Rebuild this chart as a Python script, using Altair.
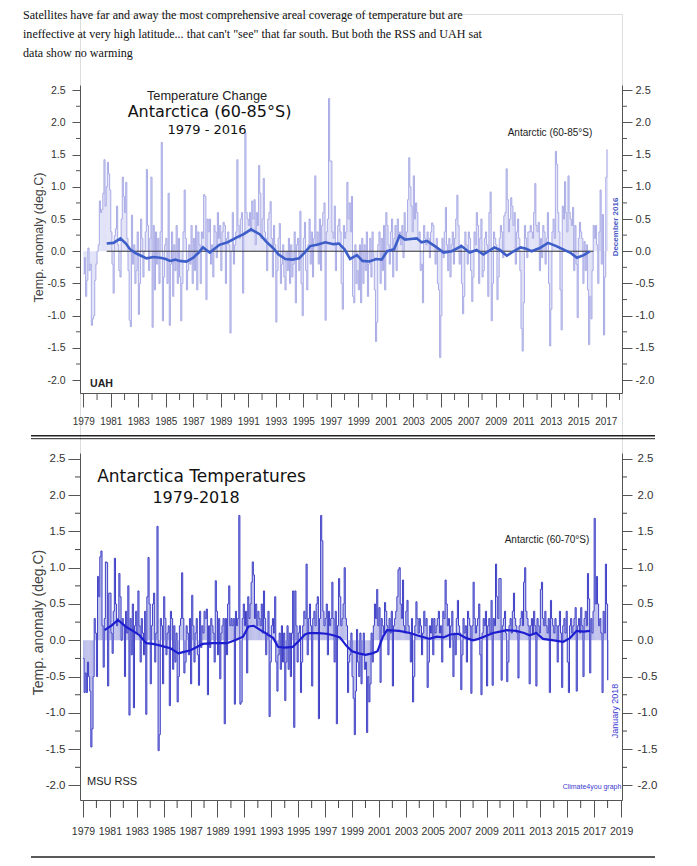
import altair as alt
import pandas as pd

# ---------------- data ----------------
HEADER_LINES = [
    "Satellites have far and away the most comprehensive areal coverage of temperature but are",
    "ineffective at very high latitude... that can't \"see\" that far south. But both the RSS and UAH sat",
    "data show no warming",
]

UAH_FIRST_YEAR = 1979
UAH_MONTHLY = [
    [-0.35, -0.1, -0.7, -0.45, 0.05, -0.3, -0.2, -1.15, -1.05, -1.0, -0.45, -0.2],
    [0.0, 0.1, 0.78, 0.6, 0.65, 0.9, 1.42, 0.7, 1.0, 1.38, 1.2, 0.95],
    [0.3, -0.2, -0.65, 0.24, 0.35, 0.7, 0.1, -0.3, -0.4, 0.5, 1.15, 0.85],
    [0.6, 1.07, 0.2, -0.3, -1.07, -1.17, 0.56, -0.2, 0.1, -0.5, -0.3, 0.3],
    [-0.98, -0.5, 0.5, 0.2, -0.4, 0.0, 0.3, 1.27, 0.4, -0.3, 0.2, 1.15],
    [-1.18, 0.4, -0.6, 0.3, -0.2, 0.2, -0.5, 0.3, 1.69, -1.08, -0.4, 0.1],
    [0.2, -0.5, 0.9, -1.15, -0.2, 0.3, -0.7, 0.1, -0.3, 0.4, -0.5, 0.2],
    [-0.4, -1.08, -0.5, 0.3, 0.95, 0.2, -0.6, -0.3, 0.1, -0.2, 0.4, -0.5],
    [0.2, -0.3, 0.4, -0.6, 0.3, 0.1, -0.5, 0.3, 0.2, 0.88, 0.85, -0.75],
    [0.5, 0.3, 0.5, -0.2, 0.1, -0.4, 0.4, 0.3, -0.1, 0.6, 0.2, 0.4],
    [-0.3, 0.3, 0.45, 0.4, -0.5, 0.2, 0.3, 0.1, -1.27, 0.0, 0.6, -0.2],
    [0.1, 0.3, 1.42, 0.4, 0.2, 0.5, 0.6, -0.65, 0.3, 1.84, 0.6, 0.5],
    [0.4, 0.6, 0.3, 0.78, 0.5, 0.8, 0.1, 0.6, 0.4, 1.33, 0.9, 0.2],
    [0.5, 1.13, 0.3, 0.2, -0.3, 0.5, 0.6, 0.77, 0.2, -0.4, 0.4, 0.1],
    [-1.1, -0.3, 0.2, 0.43, -0.5, -0.2, 0.1, -0.4, -0.6, 0.0, -0.3, 0.2],
    [-0.5, 0.1, -0.4, -0.2, 0.3, -0.8, 0.1, 0.2, -0.3, 0.62, -0.5, -1.0],
    [0.2, 0.45, -0.3, -0.6, 0.1, 0.5, -0.2, 0.3, -0.4, 0.2, 1.17, 0.1],
    [0.3, -0.2, 0.5, -0.3, 0.4, 0.6, 0.75, -1.07, 0.3, 0.5, 2.37, 1.4],
    [1.4, 0.3, 0.2, 0.7, -0.3, 0.1, 0.4, 0.5, 0.3, -0.5, -0.9, 0.4],
    [0.2, 0.3, 1.07, 0.5, 0.75, 0.3, 0.85, -0.7, -0.8, 0.1, -0.5, -0.3],
    [-0.6, 0.1, -0.8, 0.2, -0.5, 0.1, -0.3, 0.3, -0.7, -0.2, 0.2, -0.4],
    [0.3, -0.1, -0.6, -1.4, -1.1, 0.1, 0.3, -0.5, 0.2, -0.3, 0.4, -0.6],
    [0.6, 0.4, 0.1, -0.2, 0.3, 0.5, -0.4, 0.2, 0.4, -0.3, 0.5, 0.2],
    [0.3, 0.1, 0.4, -0.1, 0.6, 0.2, 0.3, 0.8, 1.45, 1.0, 0.7, 0.3],
    [1.17, 0.5, 0.75, 0.6, 0.2, 0.3, -0.3, -0.2, -0.8, 0.4, 0.2, 0.1],
    [0.3, 0.2, -0.1, 0.3, 0.44, 0.4, 0.1, -0.2, 0.2, -0.5, -0.6, -1.65],
    [-1.0, 0.2, -0.1, 0.3, 0.68, 0.1, -0.3, 0.2, -0.4, 0.1, 0.3, -0.2],
    [0.2, 0.5, 0.87, 0.4, -0.2, 0.1, -0.5, -0.97, -0.7, 0.3, 0.1, -0.2],
    [0.3, 0.2, -0.3, -0.78, -0.4, 0.3, 0.1, 0.6, 0.4, -0.5, 0.2, 0.5],
    [-0.4, -0.3, 0.2, 0.3, 0.1, -0.7, 0.6, 0.92, -1.08, -0.5, 0.3, 0.2],
    [0.1, -0.75, -0.4, 0.2, 0.4, 0.3, -0.1, 0.55, 0.6, 1.28, 0.8, 0.3],
    [0.5, 0.83, 0.7, 0.4, 0.6, -0.2, 0.3, 0.5, 0.2, -0.3, -1.2, -1.55],
    [-0.8, 0.4, 0.2, -0.1, 0.3, 0.3, 0.4, 0.3, 0.2, 0.6, 1.05, 0.4],
    [0.3, 0.45, -0.3, 0.2, -0.1, 0.4, 0.3, -0.2, 0.2, 0.6, -0.5, -1.47],
    [-0.9, 0.3, 0.5, 0.2, 1.55, 1.35, 0.6, 0.3, -0.6, -1.22, 0.7, 0.5],
    [1.08, 0.6, 0.3, 1.17, 0.6, 0.5, 0.4, 0.68, -0.3, 0.4, -0.2, -1.03],
    [0.2, 0.45, 0.3, 0.2, -0.5, 0.15, -0.3, 0.1, -0.6, -1.45, -0.7, -1.05],
    [-0.3, 0.4, 0.2, 0.4, 0.1, -0.5, 0.3, 0.95, -0.2, 0.57, -1.3, -0.4],
    [1.15, 1.58],
]
UAH_SMOOTH_X = [1980.7, 1981.2, 1981.7, 1982.1, 1982.4, 1982.8, 1983.2, 1983.6, 1984.1, 1984.6,
                1985.0, 1985.3, 1985.7, 1986.0, 1986.5, 1987.0, 1987.4, 1987.7, 1988.2, 1988.9,
                1989.5, 1990.2, 1990.7, 1991.2, 1991.85, 1992.3, 1992.8, 1993.2, 1993.7, 1994.2,
                1994.7, 1995.1, 1995.5, 1996.0, 1996.6, 1997.2, 1997.6, 1998.0, 1998.4, 1998.9,
                1999.3, 1999.8, 2000.3, 2000.7, 2001.1, 2001.6, 2002.0, 2002.4, 2002.8, 2003.25,
                2003.6, 2004.0, 2004.7, 2005.2, 2005.8, 2006.5, 2007.1, 2007.6, 2008.1, 2008.9,
                2009.3, 2009.8, 2010.3, 2010.8, 2011.2, 2011.6, 2012.2, 2012.8, 2013.4, 2013.9,
                2014.4, 2014.9, 2015.4, 2015.85]
UAH_SMOOTH_Y = [0.12, 0.13, 0.2, 0.12, 0.03, -0.03, -0.07, -0.11, -0.09, -0.1,
                -0.12, -0.15, -0.13, -0.15, -0.16, -0.1, -0.02, 0.06, -0.02, 0.1,
                0.14, 0.22, 0.27, 0.34, 0.26, 0.15, 0.05, -0.05, -0.12, -0.13,
                -0.11, -0.02, 0.08, 0.1, 0.14, 0.11, 0.12, 0.03, -0.12, -0.06,
                -0.15, -0.16, -0.12, -0.13, 0.0, 0.03, 0.24, 0.18, 0.19, 0.2,
                0.14, 0.16, 0.06, -0.02, 0.0, 0.08, -0.02, 0.02, -0.05, 0.06,
                0.02, -0.07, 0.0, 0.06, 0.04, 0.0, 0.05, 0.13, 0.08, 0.03,
                -0.02, -0.1, -0.06, 0.0]
UAH_ZERO_SPAN = [1980.7, 2016.1]

RSS_FIRST_YEAR = 1979
RSS_MONTHLY = [
    [-0.25, -0.72, -0.45, -0.72, -0.3, -0.5, -0.7, -1.47, -1.22, -0.5, 0.3, 0.1],
    [-0.5, 0.88, 0.6, 1.15, 1.23, 0.2, -0.37, 0.3, 1.08, 1.07, -0.63, 0.65],
    [0.65, 0.1, -0.18, 0.4, 1.13, 0.5, 0.2, 0.3, 0.92, 0.6, 0.0, 0.3],
    [0.2, -0.5, 0.4, 0.1, 0.75, -1.03, 0.3, -0.2, 0.5, -0.93, 0.2, 0.4],
    [0.1, 0.68, 0.2, -0.3, 0.3, 0.1, -0.2, 0.4, -1.02, 0.6, 1.14, 0.5],
    [-0.6, 0.2, 0.5, 0.65, -0.3, 0.1, 1.57, -1.52, -1.3, 0.3, 0.2, -0.6],
    [0.6, 0.3, -0.2, 0.1, 0.2, -0.9, 0.4, 0.3, -0.4, 0.2, -0.3, 0.1],
    [-0.85, -0.5, 0.2, 0.3, 0.93, 0.3, -0.45, -0.3, 0.2, 0.1, -0.2, 0.3],
    [-0.6, 0.62, 0.2, -0.3, 0.1, 0.3, -0.2, -0.62, 0.4, -0.1, 0.2, 0.1],
    [0.4, 0.3, 0.43, -0.75, 0.2, -0.1, 0.3, 0.2, 0.1, -0.3, 0.82, 0.4],
    [-0.2, 0.3, -0.53, 0.1, 0.2, 0.3, -1.15, 0.3, -0.2, 0.5, 0.75, 0.2],
    [0.3, 0.2, 0.3, -0.88, 0.4, 0.2, 0.3, 1.72, -0.88, -0.85, 0.3, 0.5],
    [0.2, 0.4, -0.45, 0.6, 0.3, 0.5, 0.8, 1.08, 0.9, 0.3, 0.5, 0.2],
    [0.4, 0.3, 0.2, 0.5, 0.1, 0.68, 0.3, -0.2, 0.1, 0.4, -1.05, -0.3],
    [0.2, 0.3, 0.1, 0.6, -0.3, -0.7, -0.2, 0.1, -0.4, 0.2, -0.3, 0.1],
    [-0.83, -0.3, 0.2, -0.4, 0.1, -0.5, 0.1, 0.68, -1.2, 0.68, 0.2, -0.3],
    [0.1, 0.2, -0.72, -0.3, 0.2, 0.4, 0.3, 1.05, -0.2, 0.3, 0.5, 0.2],
    [-0.63, 0.3, 0.4, 0.2, 0.5, 0.6, -1.08, 0.3, 1.72, 1.37, 0.4, 0.2],
    [0.3, 0.5, -0.2, 0.4, 0.2, 0.3, 0.8, 0.3, -0.3, 0.4, -1.15, 0.2],
    [0.85, 0.6, 0.2, 0.3, 0.5, 1.0, 0.3, 0.2, -0.72, -0.3, -0.2, 0.1],
    [-0.5, -0.8, -1.3, -0.7, 0.15, -0.3, -0.5, 0.1, -0.6, -0.2, 0.1, -0.4],
    [-0.3, -1.27, -0.5, -0.85, -0.6, 0.1, -0.3, 0.2, 0.5, 0.3, 0.7, 0.2],
    [0.45, -0.58, 0.3, 0.2, 0.1, 0.52, 0.4, 0.2, -0.2, 0.3, 0.1, 0.4],
    [-0.63, 0.2, 0.3, 0.4, 0.6, 0.97, 1.0, 0.5, 0.3, 0.83, 0.2, 0.1],
    [0.4, 0.55, 0.2, 0.1, -0.3, 0.3, -0.85, -0.5, 0.2, 0.53, 0.3, 0.1],
    [0.3, 0.2, -0.2, 0.1, 0.4, 0.2, 0.3, -0.65, -0.3, 0.2, 0.1, 0.3],
    [-0.2, 0.3, 0.1, 0.2, 0.3, 0.4, 0.1, 0.2, -0.3, 0.4, 0.3, 0.83],
    [0.5, 0.2, 0.3, -0.1, 0.2, 0.4, -0.5, 0.1, -0.2, 0.3, 0.55, 0.2],
    [0.1, -0.68, -0.2, 0.3, 0.1, 0.2, -0.3, 0.4, 0.3, 0.2, -0.73, 0.2],
    [0.8, 0.3, 0.1, 0.2, 0.3, 0.5, -0.2, -0.75, 0.1, 0.3, 0.2, 0.4],
    [-0.63, 0.2, 0.3, 0.1, 0.55, -0.62, 0.3, 0.2, 1.05, 0.6, 0.3, 0.85],
    [0.85, -0.55, 0.2, 0.3, 0.4, 0.1, -0.57, -0.3, 0.2, 0.3, 0.1, 0.4],
    [0.65, 0.3, 0.2, 0.1, -0.52, 0.2, 0.3, 0.4, 0.2, 0.8, 1.0, 0.4],
    [0.3, 0.2, -0.6, 0.2, 0.3, 0.1, 0.4, 0.2, -0.63, 0.3, 0.2, 0.1],
    [0.7, 0.8, 0.3, 0.2, 0.4, 0.2, 0.1, 0.3, -0.72, 0.55, 0.3, 0.2],
    [0.1, 0.3, 0.2, -0.3, 0.2, 0.4, 0.1, -0.65, 0.2, 0.3, 0.1, 0.4],
    [-0.3, -0.72, 0.2, 0.3, 0.1, 0.2, 0.3, 0.45, -0.7, 0.2, 0.3, 0.1],
    [0.45, 0.2, -0.5, 0.3, 0.4, 0.2, 0.92, 0.57, -0.45, 0.3, 0.1, 0.4],
    [1.68, 0.5, 0.88, 0.5, 0.2, 0.3, 0.1, -0.72, 0.4, 0.1, 1.05, 0.5],
    [-0.55],
]
RSS_SMOOTH_X = [1980.6, 1981.1, 1981.6, 1982.25, 1982.8, 1983.2, 1983.7, 1984.2, 1984.7, 1985.1,
                1985.5, 1986.1, 1986.5, 1986.95, 1987.4, 1987.9, 1988.65, 1989.2, 1989.7, 1990.3,
                1990.9, 1991.3, 1991.7, 1992.2, 1992.65, 1993.15, 1993.5, 1994.0, 1994.6, 1995.1,
                1995.5, 1995.8, 1996.5, 1997.1, 1997.6, 1998.1, 1998.6, 1999.0, 1999.5, 2000.0,
                2000.5, 2000.9, 2001.3, 2001.6, 2002.5, 2003.3, 2004.0, 2004.75, 2005.3, 2005.8,
                2006.3, 2006.9, 2007.5, 2008.0, 2008.4, 2008.8, 2009.5, 2010.0, 2010.5, 2011.2,
                2011.8, 2012.2, 2012.7, 2013.2, 2014.0, 2014.7, 2015.2, 2015.7, 2016.2, 2016.7]
RSS_SMOOTH_Y = [0.14, 0.2, 0.28, 0.18, 0.12, 0.07, -0.04, -0.05, -0.07, -0.09,
                -0.11, -0.18, -0.16, -0.14, -0.1, -0.05, -0.04, -0.04, -0.04, 0.0,
                0.05, 0.19, 0.2, 0.14, 0.09, 0.03, -0.09, -0.1, -0.09, 0.0,
                0.08, 0.1, 0.1, 0.09, 0.07, 0.04, -0.08, -0.15, -0.18, -0.2,
                -0.18, -0.15, 0.05, 0.14, 0.13, 0.1, 0.06, 0.02, 0.05, 0.04,
                0.08, 0.09, 0.03, 0.0, 0.02, 0.05, 0.1, 0.12, 0.14, 0.13,
                0.1, 0.07, 0.1, 0.02, 0.0, -0.02, 0.03, 0.13, 0.12, 0.13]

Y_TICKS = [-2.0, -1.5, -1.0, -0.5, 0.0, 0.5, 1.0, 1.5, 2.0, 2.5]
Y_MINOR = [-1.75, -1.25, -0.75, -0.25, 0.25, 0.75, 1.25, 1.75, 2.25]
UAH_X_LABELS = list(range(1979, 2018, 2))
UAH_X_MINOR = list(range(1980, 2019, 2))
RSS_X_LABELS = list(range(1979, 2020, 2))
RSS_X_MINOR = list(range(1980, 2019, 2))

# ---------------- helpers ----------------
NARROW = "Liberation Sans, Arial, sans-serif"
SANS = "DejaVu Sans, Verdana, sans-serif"
ARIAL = "Liberation Sans, Arial, sans-serif"
SERIF = "Liberation Serif, Times New Roman, serif"

OY = 14  # page y of the plot group's origin (8px page margin + 6px top padding)


def Y(page_y):
    return page_y - OY


def monthly_frame(first_year, rows):
    recs = []
    for i, row in enumerate(rows):
        for m, v in enumerate(row):
            t = first_year + i + m / 12.0
            recs.append({"t": t, "t2": t + 1 / 12.0, "v": v})
    return pd.DataFrame(recs)


uah = monthly_frame(UAH_FIRST_YEAR, UAH_MONTHLY)
rss = monthly_frame(RSS_FIRST_YEAR, RSS_MONTHLY)
uah_s = pd.DataFrame({"x": UAH_SMOOTH_X, "y": UAH_SMOOTH_Y})
rss_s = pd.DataFrame({"x": RSS_SMOOTH_X, "y": RSS_SMOOTH_Y})
zero_df = pd.DataFrame({"x": [UAH_ZERO_SPAN[0]], "x2": [UAH_ZERO_SPAN[1]], "y": [0.0]})
ONE = pd.DataFrame({"a": [0]})

W = 542
H = Y(800)
TOP_BASE = Y(393)
SX1 = alt.Scale(domain=[1978.76, 2018.18], range=[0, W], nice=False, zero=False)
SY1 = alt.Scale(domain=[-2.2, 2.58], range=[TOP_BASE, Y(85)], nice=False, zero=False)
SX2 = alt.Scale(domain=[1978.78, 2019.07], range=[0, W], nice=False, zero=False)
SY2 = alt.Scale(domain=[-2.2, 2.58], range=[H, Y(453)], nice=False, zero=False)

LBL = "replace(format(datum.value, '.1f'), '\u2212', '-')"


def yaxis(orient, tick, pad, size, title=None, title_y=0, title_size=12):
    kw = dict(orient=orient, values=Y_TICKS, labelExpr=LBL, tickSize=tick, labelPadding=pad,
              labelFont=NARROW, labelFontSize=size, labelColor="#333", domainColor="#555",
              tickColor="#555", grid=False, labelAlign="right" if orient == "left" else "left",
              labelBaseline="middle")
    if title:
        kw.update(title=title, titleX=-42, titleY=title_y, titleAngle=-90, titleAlign="center",
                  titleBaseline="middle", titleFont=ARIAL, titleFontSize=title_size,
                  titleFontWeight="normal", titleColor="#444")
    else:
        kw.update(title=None)
    return alt.Axis(**kw)


def xaxis(values, offset, tick, pad, size):
    return alt.Axis(orient="bottom", values=values, format="d", offset=offset, tickSize=tick,
                    labelPadding=pad, labelFont=NARROW, labelFontSize=size, labelColor="#333",
                    domainColor="#555", tickColor="#555", grid=False, title=None,
                    labelFlush=False, labelOverlap=False)


def label(text, x, page_y, size, font=ARIAL, color="#222", weight="normal", align="center", angle=0):
    return alt.Chart(ONE).mark_text(text=text, font=font, fontSize=size, color=color,
                                    fontWeight=weight, align=align, baseline="middle",
                                    angle=angle).encode(x=alt.value(x), y=alt.value(Y(page_y)))


def hrule(x1, x2, page_y, width, color="#222"):
    return alt.Chart(ONE).mark_rule(color=color, strokeWidth=width).encode(
        x=alt.value(x1), x2=alt.value(x2), y=alt.value(Y(page_y)))


# ---------------- top panel (UAH) ----------------
top_bars = alt.Chart(uah).mark_bar(color="#c3c5ef", opacity=0.5).encode(
    x=alt.X("t:Q", scale=SX1, axis=xaxis(UAH_X_LABELS, -(H - TOP_BASE), 14, 9, 10)),
    x2="t2:Q",
    y=alt.Y("v:Q", scale=SY1, axis=yaxis("left", 8, 7, 10.5, "Temp. anomaly (deg.C)", Y(237), 12.5)),
    y2=alt.datum(0),
)
top_step = alt.Chart(uah).mark_line(interpolate="step-after", color="#a2a4e3", strokeWidth=0.9).encode(
    x=alt.X("t:Q", scale=SX1, axis=None),
    y=alt.Y("v:Q", scale=SY1, axis=yaxis("right", 10, 3, 11)),
)
top_zero = alt.Chart(zero_df).mark_rule(color="#333", strokeWidth=1).encode(
    x=alt.X("x:Q", scale=SX1, axis=None), x2="x2:Q",
    y=alt.Y("y:Q", scale=SY1, axis=None),
)
top_smooth = alt.Chart(uah_s).mark_line(color="#3d5ec8", strokeWidth=2.6).encode(
    x=alt.X("x:Q", scale=SX1, axis=None),
    y=alt.Y("y:Q", scale=SY1, axis=None),
)
top_minor_l = alt.Chart(pd.DataFrame({"v": Y_MINOR})).mark_rule(color="#555").encode(
    y=alt.Y("v:Q", scale=SY1, axis=None), x=alt.value(-4), x2=alt.value(0))
top_minor_r = alt.Chart(pd.DataFrame({"v": Y_MINOR})).mark_rule(color="#555").encode(
    y=alt.Y("v:Q", scale=SY1, axis=None), x=alt.value(W), x2=alt.value(W + 5))
top_minor_x = alt.Chart(pd.DataFrame({"t": UAH_X_MINOR})).mark_rule(color="#555").encode(
    x=alt.X("t:Q", scale=SX1, axis=None), y=alt.value(TOP_BASE), y2=alt.value(TOP_BASE + 7))

# ---------------- bottom panel (RSS) ----------------
bot_bars = alt.Chart(rss).mark_bar(color="#8486d8", opacity=0.55).encode(
    x=alt.X("t:Q", scale=SX2, axis=xaxis(RSS_X_LABELS, 0, 17, 9, 10.5)),
    x2="t2:Q",
    y=alt.Y("v:Q", scale=SY2, axis=yaxis("left", 12, 3, 11.5, "Temp. anomaly (deg.C)", Y(622), 14)),
    y2=alt.datum(0),
)
bot_step = alt.Chart(rss).mark_line(interpolate="step-after", color="#3f40c6", strokeWidth=1).encode(
    x=alt.X("t:Q", scale=SX2, axis=None),
    y=alt.Y("v:Q", scale=SY2, axis=yaxis("right", 10, 5, 11.5)),
)
bot_smooth = alt.Chart(rss_s).mark_line(color="#1c1cd0", strokeWidth=2.2).encode(
    x=alt.X("x:Q", scale=SX2, axis=None),
    y=alt.Y("y:Q", scale=SY2, axis=None),
)
bot_minor_l = alt.Chart(pd.DataFrame({"v": Y_MINOR})).mark_rule(color="#444").encode(
    y=alt.Y("v:Q", scale=SY2, axis=None), x=alt.value(-5), x2=alt.value(0))
bot_minor_r = alt.Chart(pd.DataFrame({"v": Y_MINOR})).mark_rule(color="#444").encode(
    y=alt.Y("v:Q", scale=SY2, axis=None), x=alt.value(W), x2=alt.value(W + 5))
bot_minor_x = alt.Chart(pd.DataFrame({"t": RSS_X_MINOR})).mark_rule(color="#444").encode(
    x=alt.X("t:Q", scale=SX2, axis=None), y=alt.value(H), y2=alt.value(H + 8))

# ---------------- annotations ----------------
header = alt.Chart(ONE).mark_text(text=HEADER_LINES, font=SERIF, fontSize=12.1, color="#111",
                                  align="left", baseline="top", lineHeight=19.2).encode(
    x=alt.value(-57), y=alt.value(Y(9)))

texts = [
    label("Temperature Change", 127, 96, 12.8, font=ARIAL),
    label("Antarctica (60-85°S)", 129.5, 112, 16, font=SANS, color="#111"),
    label("1979 - 2016", 127, 130, 13, font=SANS, color="#111"),
    label("Antarctic (60-85°S)", 470, 133, 10, font=NARROW),
    label("December 2016", 536, 227, 8, font=ARIAL, color="#4d5ec8", weight="bold", angle=270),
    label("UAH", 10, 384, 10.6, font=ARIAL, weight="bold", align="left"),
    label("Antarctica Temperatures", 121.5, 477, 17, font=SANS, color="#111"),
    label("1979-2018", 116, 498, 16, font=SANS, color="#111"),
    label("Antarctic (60-70°S)", 467, 540, 10, font=NARROW),
    label("January 2018", 535, 711, 9, font=NARROW, color="#3a3ad0", angle=270),
    label("Climate4you graph", 512, 787, 7, font=NARROW, color="#3a3ad0"),
    label("MSU RSS", 7, 782, 11, font=NARROW, align="left"),
    hrule(-49, 575, 435.7, 1.6),
    hrule(-49, 575, 438.7, 1.0),
    hrule(-49, 575, 857, 1.5),
]

chart = alt.layer(
    top_bars, top_step, top_zero, top_smooth, top_minor_l, top_minor_r, top_minor_x,
    bot_bars, bot_step, bot_smooth, bot_minor_l, bot_minor_r, bot_minor_x,
    header, *texts,
).resolve_scale(x="independent", y="independent").resolve_axis(
    x="independent", y="independent"
).properties(
    width=W, height=H,
    autosize=alt.AutoSizeParams(type="none"),
    padding={"left": 72, "top": 6, "right": 67, "bottom": 850 - 6 - H},
).configure_view(stroke=None).configure(background="white")

chart.save("out.html", embed_options={"renderer": "svg", "actions": False})
